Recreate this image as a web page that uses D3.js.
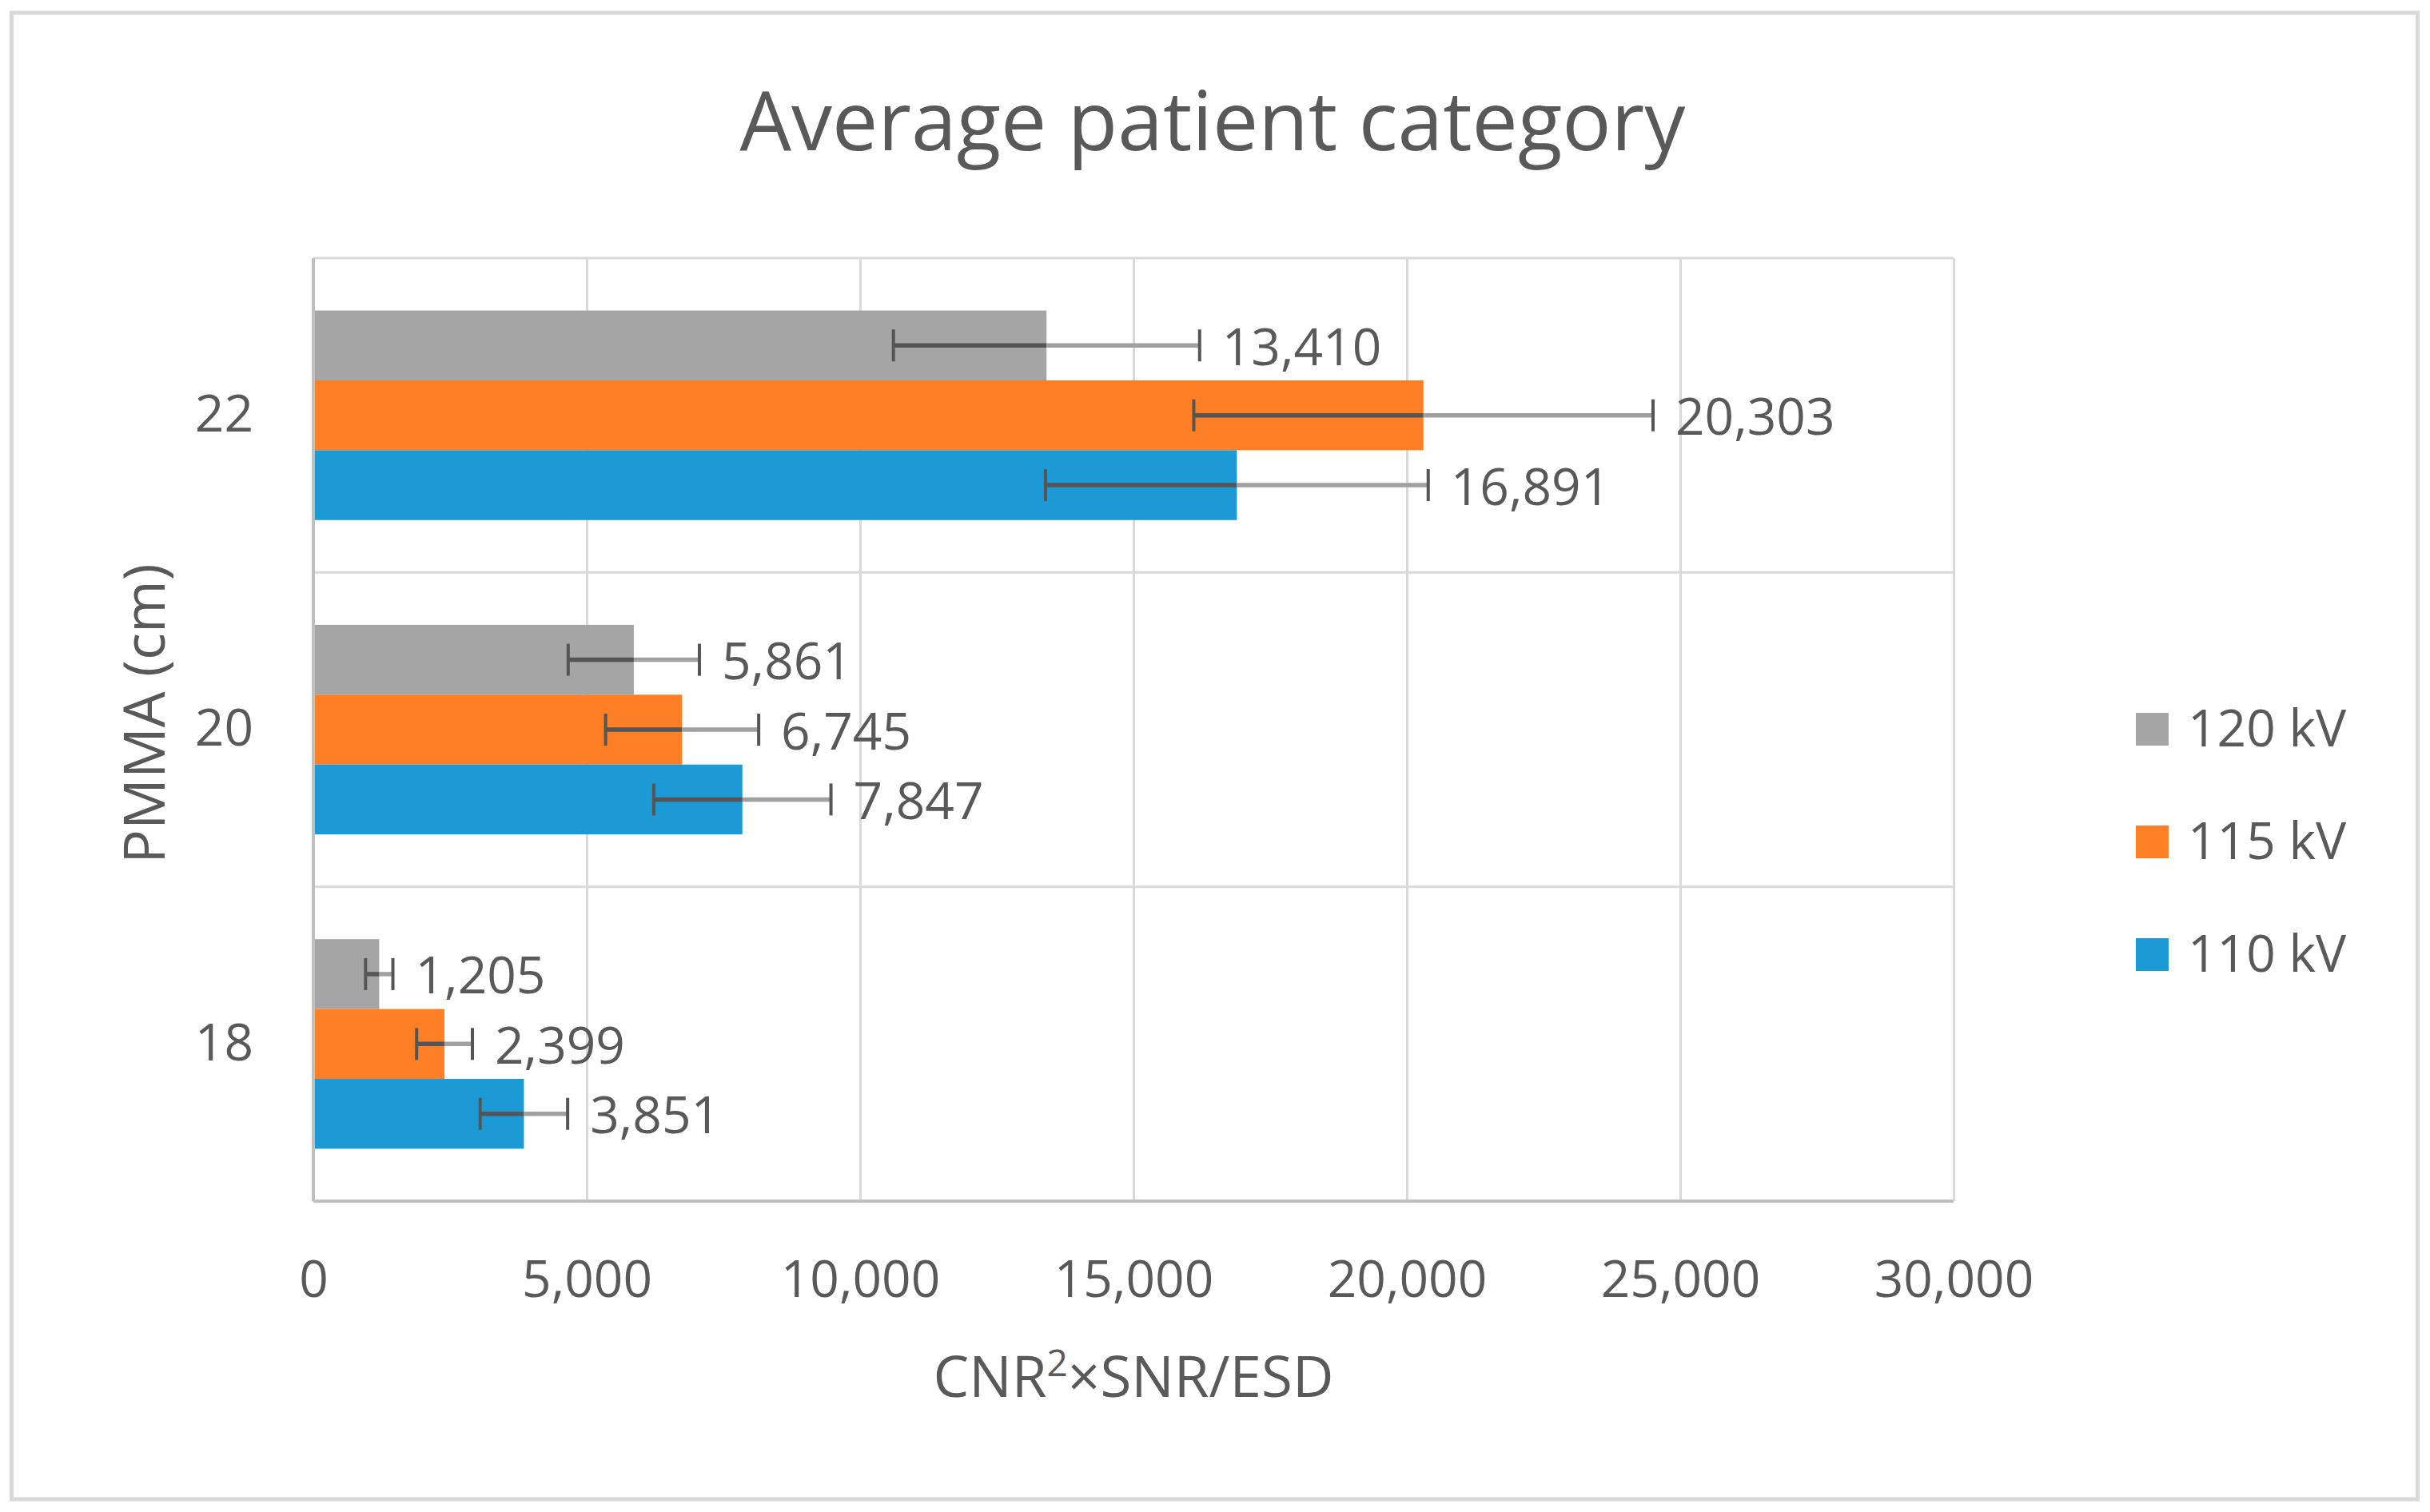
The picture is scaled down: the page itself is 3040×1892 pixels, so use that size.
<!DOCTYPE html>
<html>
<head>
<meta charset="utf-8">
<script src="https://cdn.jsdelivr.net/npm/d3@7"></script>
<style>
  body { margin: 0; background: #fff; }
  text { font-family: "Open Sans", "Noto Sans", sans-serif; fill: #595959; }
</style>
</head>
<body>
<script>
var width = 3040
var height = 1892

// data
var categories = ["22", "20", "18"]          // top to bottom
var series = ["120 kV", "115 kV", "110 kV"]  // top to bottom inside a group
var colors = ["#a5a5a5", "#ff7f27", "#1b9ad6"]
var values = {
	"120 kV": [13410, 5861, 1205],
	"115 kV": [20303, 6745, 2399],
	"110 kV": [16891, 7847, 3851]
}
var errors = {
	"120 kV": [2800, 1200, 250],
	"115 kV": [4200, 1400, 510],
	"110 kV": [3500, 1620, 800]
}
var xTicks = [0, 5000, 10000, 15000, 20000, 25000, 30000]

// plot area (window.top is reserved, so no plain "top")
var pLeft = 392, pRight = 2444, pTop = 323, pBottom = 1503

var svg = d3.select("body")
			.append("svg")
			.attr("width", width)
			.attr("height", height)

// outer chart border
svg.append("rect")
	.attr("x", 14.5).attr("y", 16)
	.attr("width", 3010).attr("height", 1860)
	.style("fill", "#fff")
	.style("stroke", "#d9d9d9")
	.style("stroke-width", 5)

var x = d3.scaleLinear().domain([0, 30000]).range([pLeft, pRight])

var y0 = d3.scaleBand().domain(categories).range([pTop, pBottom])

// gap width 150% of one bar
var barH = y0.bandwidth() / 4.5
var y1 = d3.scaleBand().domain(series)
	.range([barH * 0.75, y0.bandwidth() - barH * 0.75])

// vertical gridlines + tick labels
var xAxis = svg.append("g")
	.attr("transform", "translate(0," + pBottom + ")")
	.call(d3.axisBottom(x).tickValues(xTicks).tickFormat(d3.format(","))
		.tickSize(-(pBottom - pTop)).tickPadding(75))
xAxis.select(".domain").remove()
xAxis.selectAll("line").style("stroke", "#d9d9d9").style("stroke-width", 3)
xAxis.selectAll("text").style("font-size", "64px").style("fill", "#595959")
	.style("font-family", "'Open Sans', sans-serif")

// horizontal gridlines at category boundaries
svg.selectAll(".hgrid")
	.data(categories)
	.enter()
	.append("line")
	.attr("x1", pLeft).attr("x2", pRight)
	.attr("y1", function(d) { return y0(d) })
	.attr("y2", function(d) { return y0(d) })
	.style("stroke", "#d9d9d9")
	.style("stroke-width", 3)

// category labels
var yAxis = svg.append("g")
	.attr("transform", "translate(317,0)")
	.call(d3.axisLeft(y0).tickSize(0).tickPadding(0))
yAxis.select(".domain").remove()
yAxis.selectAll("text").style("font-size", "64px").style("fill", "#595959")
	.style("font-family", "'Open Sans', sans-serif")

// bars
var groups = svg.selectAll(".series")
	.data(series)
	.enter()
	.append("g")

groups.selectAll("rect")
	.data(function(s, i) {
		return categories.map(function(c, j) {
			return { s: s, c: c, v: values[s][j], e: errors[s][j], color: colors[i] }
		})
	})
	.enter()
	.append("rect")
	.attr("x", x(0))
	.attr("y", function(d) { return y0(d.c) + y1(d.s) })
	.attr("width", function(d) { return x(d.v) - x(0) })
	.attr("height", y1.bandwidth())
	.style("fill", function(d) { return d.color })

// error bars and labels
groups.each(function(s, i) {
	var g = d3.select(this)
	categories.forEach(function(c, j) {
		var v = values[s][j], e = errors[s][j]
		var cy = y0(c) + y1(s) + y1.bandwidth() / 2
		g.append("line")
			.attr("x1", x(v - e)).attr("x2", x(v))
			.attr("y1", cy).attr("y2", cy)
			.style("stroke", "#555555").style("stroke-width", 5.5)
		g.append("line")
			.attr("x1", x(v)).attr("x2", x(v + e))
			.attr("y1", cy).attr("y2", cy)
			.style("stroke", "#a0a0a0").style("stroke-width", 5.5)
		;[v - e, v + e].forEach(function(ev) {
			g.append("line")
				.attr("x1", x(ev)).attr("x2", x(ev))
				.attr("y1", cy - 20).attr("y2", cy + 20)
				.style("stroke", "#555555").style("stroke-width", 4)
		})
		g.append("text")
			.attr("x", x(v + e) + 28)
			.attr("y", cy)
			.attr("dominant-baseline", "central")
			.style("font-size", "64px")
			.text(d3.format(",")(v))
	})
})

// axis lines
svg.append("line")
	.attr("x1", pLeft).attr("x2", pRight)
	.attr("y1", pBottom).attr("y2", pBottom)
	.style("stroke", "#bfbfbf").style("stroke-width", 4)
svg.append("line")
	.attr("x1", pLeft).attr("x2", pLeft)
	.attr("y1", pTop).attr("y2", pBottom)
	.style("stroke", "#bfbfbf").style("stroke-width", 4)

// titles
svg.append("text")
	.attr("x", 1517).attr("y", 188)
	.attr("text-anchor", "middle")
	.style("font-size", "102px")
	.text("Average patient category")

var xt = svg.append("text")
	.attr("x", (pLeft + pRight) / 2).attr("y", 1748)
	.attr("text-anchor", "middle")
	.style("font-size", "71px")
xt.append("tspan").text("CNR")
xt.append("tspan").attr("dy", -26).style("font-size", "46px").text("2")
xt.append("tspan").attr("dy", 26).text("×SNR/ESD")

svg.append("text")
	.attr("transform", "translate(178,893) rotate(-90)")
	.attr("text-anchor", "middle")
	.attr("dominant-baseline", "central")
	.style("font-size", "71px")
	.text("PMMA (cm)")

// legend
var legend = svg.selectAll(".legend")
	.data(series)
	.enter()
	.append("g")
	.attr("transform", function(d, i) { return "translate(2672," + (892 + i * 141) + ")" })

legend.append("rect")
	.attr("width", 41).attr("height", 41)
	.style("fill", function(d, i) { return colors[i] })

legend.append("text")
	.attr("x", 65).attr("y", 42)
	.style("font-size", "64px")
	.text(function(d) { return d })
</script>
</body>
</html>
